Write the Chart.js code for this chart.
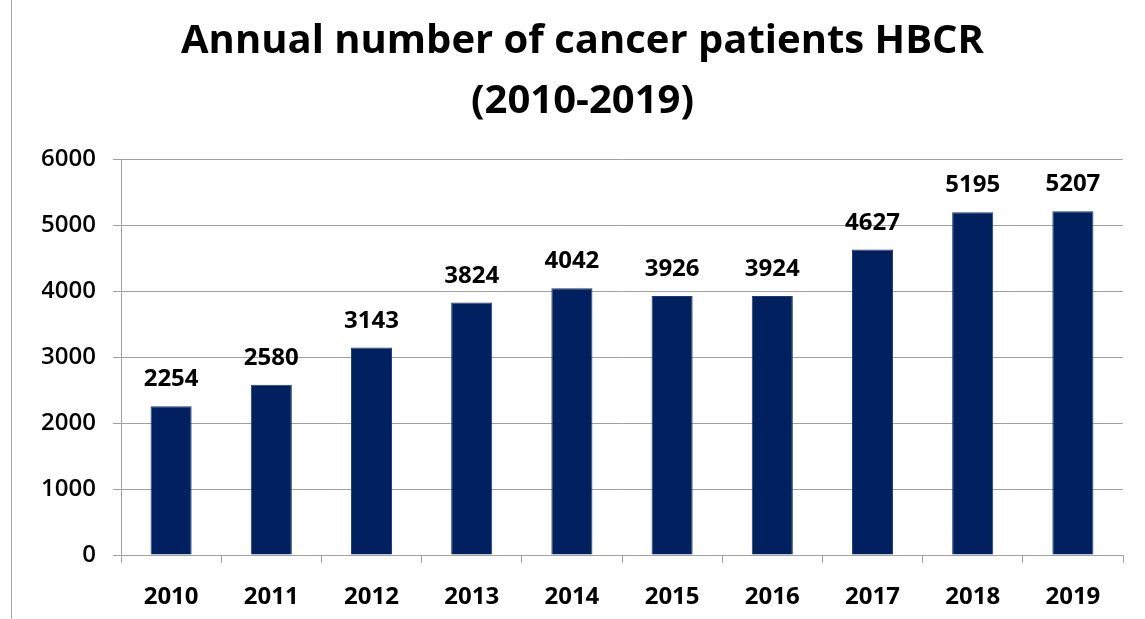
<!DOCTYPE html>
<html>
<head>
<meta charset="utf-8">
<script src="https://cdn.jsdelivr.net/npm/chart.js@4/dist/chart.umd.min.js"></script>
<style>
  html, body { margin: 0; padding: 0; background: #fff; }
  #wrap { position: relative; width: 1145px; height: 619px; }
  #edge { position: absolute; left: 11px; top: 0; width: 1px; height: 619px; background: #a6a6a6; }
  canvas { position: absolute; left: 0; top: 0; }
</style>
</head>
<body>
<div id="wrap">
  <canvas id="graficoPacientes" width="1145" height="619"></canvas>
  <div id="edge"></div>
</div>
<script>
const anos = ["2010", "2011", "2012", "2013", "2014", "2015", "2016", "2017", "2018", "2019"];
const pacientes = [2254, 2580, 3143, 3824, 4042, 3926, 3924, 4627, 5195, 5207];
const ticksY = [0, 1000, 2000, 3000, 4000, 5000, 6000];
const titulo = ["Annual number of cancer patients HBCR", "(2010-2019)"];

const fonte = "'Open Sans', 'Liberation Sans', sans-serif";
const cinza = "#a0a0a0";

// rótulos com o valor acima de cada barra
const rotulosBarras = {
  id: "rotulosBarras",
  afterDatasetsDraw(chart) {
    const ctx = chart.ctx;
    const meta = chart.getDatasetMeta(0);
    ctx.save();
    ctx.font = "bold 24px " + fonte;
    ctx.fillStyle = "#000";
    ctx.textAlign = "center";
    ctx.textBaseline = "alphabetic";
    meta.data.forEach((barra, i) => {
      ctx.fillText(String(pacientes[i]), barra.x, barra.y - 20);
    });
    ctx.restore();
  }
};

const ctx = document.getElementById("graficoPacientes").getContext("2d");

new Chart(ctx, {
  type: "bar",
  data: {
    labels: anos,
    datasets: [{
      data: pacientes,
      backgroundColor: "#002060",
      borderColor: "#1f3a78",
      borderWidth: 1,
      barPercentage: 0.41,
      categoryPercentage: 1
    }]
  },
  plugins: [rotulosBarras],
  options: {
    responsive: false,
    animation: false,
    layout: { padding: { left: 42, right: 22, top: 0, bottom: 0 } },
    plugins: {
      legend: { display: false },
      tooltip: { enabled: false },
      title: {
        display: true,
        text: titulo,
        color: "#000",
        font: { family: fonte, size: 40, weight: "bold", lineHeight: 60 / 40 },
        padding: { top: 12, bottom: 27 }
      }
    },
    scales: {
      x: {
        grid: {
          display: true,
          drawOnChartArea: false,
          tickLength: 8,
          color: cinza,
          offset: true
        },
        border: { display: true, color: cinza, width: 1 },
        ticks: {
          color: "#000",
          padding: 20,
          font: { family: fonte, size: 24, weight: "bold" }
        },
        afterFit(scale) { scale.height = 64; }
      },
      y: {
        min: 0,
        max: 6000,
        afterBuildTicks(scale) { scale.ticks = ticksY.map(v => ({ value: v })); },
        grid: { color: cinza, tickLength: 8 },
        border: { display: true, color: cinza, width: 1 },
        ticks: {
          color: "#000",
          padding: 17,
          font: { family: fonte, size: 24, weight: "600" },
          callback: (v) => String(v)
        },
        afterFit(scale) { scale.width = 79; }
      }
    }
  }
});
</script>
</body>
</html>
